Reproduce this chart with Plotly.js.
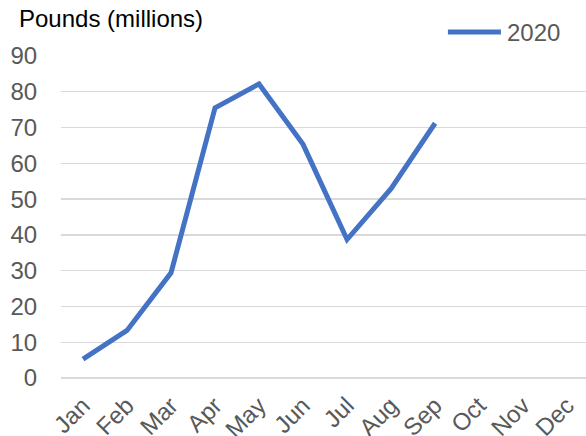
<!DOCTYPE html>
<html>
<head>
<meta charset="utf-8">
<script src="https://cdn.plot.ly/plotly-3.0.1.min.js"></script>
<style>html,body{margin:0;padding:0;background:#fff;}#chart{width:586px;height:436px;}</style>
</head>
<body>
<div id="chart"></div>
<script>
const months = ["Jan","Feb","Mar","Apr","May","Jun","Jul","Aug","Sep","Oct","Nov","Dec"];
const series2020 = [5.3, 13.3, 29.4, 75.5, 82.2, 65.3, 38.7, 52.9, 71.2, null, null, null];
const seriesName = "2020";
const yTicks = [0,10,20,30,40,50,60,70,80,90];
const unitLabel = "Pounds (millions)";

const FONT = "Liberation Sans, Arial, sans-serif";
const BLUE = "#4472C4";
const GREY = "#595959";

const trace = {
  x: months, y: series2020, type: "scatter", mode: "lines",
  name: seriesName, line: {color: BLUE, width: 5}, connectgaps: false,
  hoverinfo: "skip", showlegend: false
};

const layout = {
  width: 586, height: 436,
  margin: {l: 61, r: 0, t: 56, b: 58, pad: 0},
  paper_bgcolor: "#fff", plot_bgcolor: "#fff",
  font: {family: FONT, size: 24, color: GREY},
  xaxis: {
    type: "category", categoryorder: "array", categoryarray: months,
    range: [-0.5, 11.43], tickangle: -45, showgrid: false, zeroline: false,
    showline: false, ticks: "outside", ticklen: 3, tickcolor: "rgba(0,0,0,0)",
    tickfont: {family: FONT, size: 24, color: GREY}, fixedrange: true
  },
  yaxis: {
    range: [0, 90], tickvals: yTicks, showgrid: true, gridcolor: "#d9d9d9", gridwidth: 1.3,
    zeroline: true, zerolinecolor: "#d9d9d9", zerolinewidth: 1.3, showline: false,
    ticks: "outside", ticklen: 18, tickcolor: "rgba(0,0,0,0)",
    tickfont: {family: FONT, size: 24, color: GREY}, fixedrange: true
  },
  shapes: [{
    type: "line", xref: "paper", yref: "paper",
    x0: 0.737, x1: 0.838, y0: 1.0745, y1: 1.0745,
    line: {color: BLUE, width: 5}
  }],
  annotations: [
    {text: seriesName, xref: "paper", yref: "paper", x: 0.845, y: 1.0745,
     xanchor: "left", yanchor: "middle", showarrow: false,
     font: {family: FONT, size: 24, color: GREY}},
    {text: unitLabel, xref: "paper", yref: "paper", x: -0.0838, y: 1.118,
     xanchor: "left", yanchor: "middle", showarrow: false,
     font: {family: FONT, size: 24, color: "#000"}}
  ]
};

Plotly.newPlot("chart", [trace], layout, {displayModeBar: false, staticPlot: true});
</script>
</body>
</html>
